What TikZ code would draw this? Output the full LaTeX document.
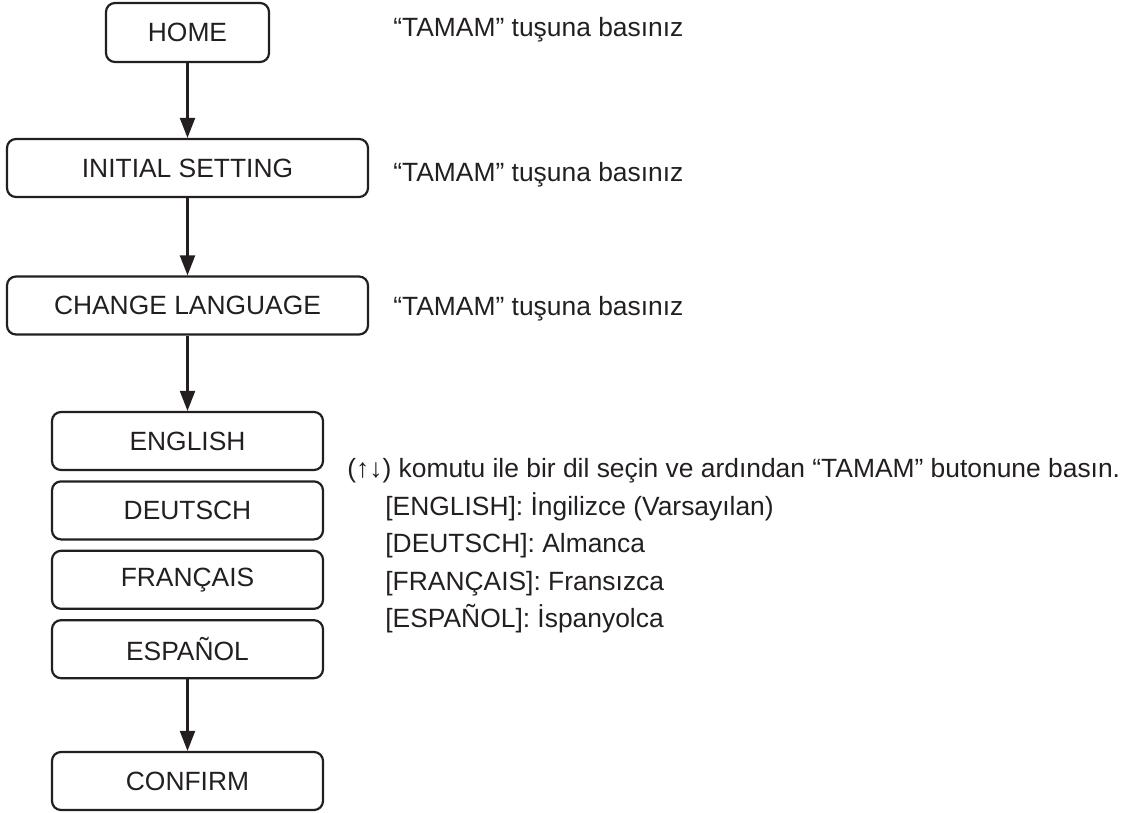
\documentclass[tikz,border=0pt]{standalone}
\usepackage{fontspec}
\setmainfont{Liberation Sans}
\usepackage{xcolor}
\usetikzlibrary{positioning, arrows.meta}
\definecolor{ink}{RGB}{35, 31, 32}

\begin{document}
\begin{tikzpicture}[
    x=0.5pt, y=-0.5pt,
    menubox/.style={
        draw=ink,
        line width=1.1pt,
        rounded corners=4.5pt,
        text=ink,
        font=\fontsize{13.2}{15}\selectfont,
        minimum height=29pt,
        minimum width=#1,
        inner sep=0pt
    },
    menubox/.default=135.5pt,
    hint/.style={text=ink, font=\fontsize{13.2}{15}\selectfont, anchor=base west, inner sep=0pt},
    flow/.style={-{Triangle[length=10pt, width=7.5pt]}, line width=1.1pt, draw=ink}
]
\useasboundingbox (0,0) rectangle (1130,813);

% === Menu path ===
\node[menubox=81.5pt, minimum height=29.5pt] (home) at (187.5,32.5) {HOME};
\node[menubox=180.5pt] (init) at (187.5,168) {INITIAL SETTING};
\node[menubox=180.5pt] (chlang) at (187.5,305.5) {CHANGE LANGUAGE};

% === Language list ===
\node[menubox] (english) at (187.5,441) {ENGLISH};
\node[menubox, below=4.6pt of english] (deutsch) {DEUTSCH};
\node[menubox, below=4.6pt of deutsch] (francais) {FRANÇAIS};
\node[menubox, below=4.6pt of francais] (espanol) {ESPAÑOL};
\node[menubox] (confirm) at (187.5,781) {CONFIRM};

% === Hints ===
\node[hint] (hhome) at (393,37) {“TAMAM” tuşuna basınız};
\node[hint] (hinit) at (393,182) {“TAMAM” tuşuna basınız};
\node[hint] (hchlang) at (393,315) {“TAMAM” tuşuna basınız};
\node[hint] (hsel) at (347,477) {(↑↓) komutu ile bir dil seçin ve ardından “TAMAM” butonune basın.};
\node[hint] (hen) at (385,515) {[ENGLISH]: İngilizce (Varsayılan)};
\node[hint] (hde) at (385,552.5) {[DEUTSCH]: Almanca};
\node[hint] (hfr) at (385,590) {[FRANÇAIS]: Fransızca};
\node[hint] (hes) at (385,627.5) {[ESPAÑOL]: İspanyolca};

% === Arrows ===
\draw[flow] (home.south) -- (init.north);
\draw[flow] (init.south) -- (chlang.north);
\draw[flow] (chlang.south) -- (english.north);
\draw[flow] (espanol.south) -- (confirm.north);

\end{tikzpicture}
\end{document}
